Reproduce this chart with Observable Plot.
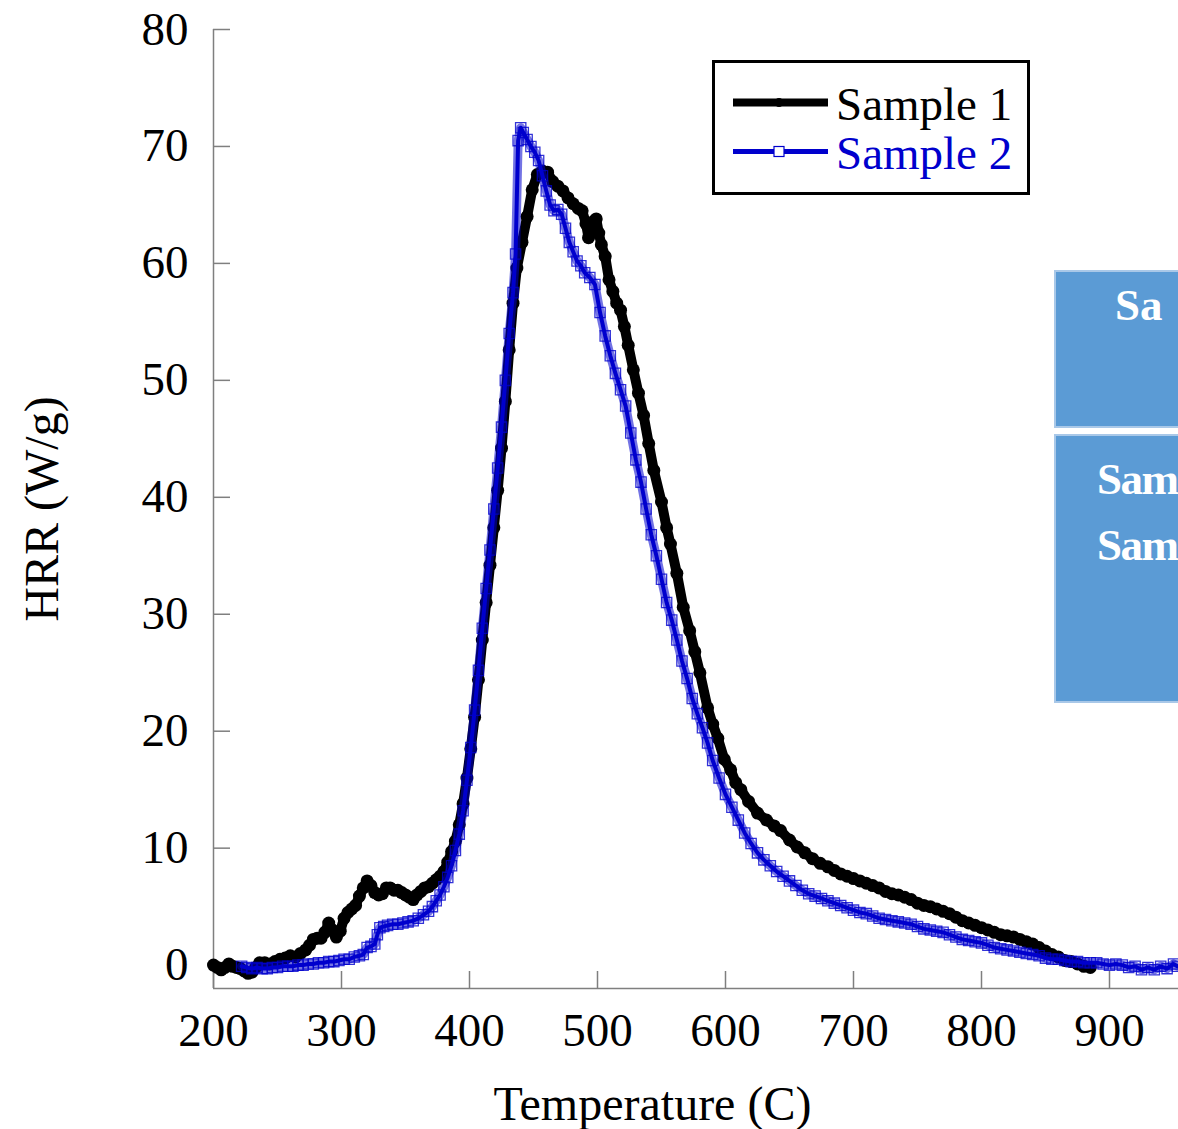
<!DOCTYPE html>
<html>
<head>
<meta charset="utf-8">
<script src="https://cdn.jsdelivr.net/npm/d3@7"></script>
<script src="https://cdn.jsdelivr.net/npm/@observablehq/plot@0.6"></script>
<style>
  html, body { margin: 0; padding: 0; background: white; }
  #wrap { position: relative; width: 1178px; height: 1129px; overflow: hidden; font-family: 'Liberation Serif', 'Times New Roman', serif; }
  #chart { position: absolute; left: 0; top: 0; }
  .box { position: absolute; background: #5b9bd5; border: 2px solid #a9c8e8; box-sizing: border-box; color: white; font-weight: bold; font-size: 45px; white-space: nowrap; }
</style>
</head>
<body>
<div id="wrap">
  <div id="chart"></div>
  <svg id="legend" width="318" height="135" style="position:absolute;left:712px;top:60px">
    <rect x="1.5" y="1.5" width="315" height="132" fill="white" stroke="black" stroke-width="3"></rect>
    <line x1="21" x2="116" y1="42.5" y2="42.5" stroke="black" stroke-width="8"></line>
    <circle cx="67" cy="42.5" r="4.5" fill="black"></circle>
    <text x="124" y="60" font-size="47" font-family="'Liberation Serif','Times New Roman',serif" fill="black">Sample 1</text>
    <line x1="21" x2="116" y1="91.5" y2="91.5" stroke="#0000cd" stroke-width="5"></line>
    <rect x="62" y="86.5" width="10" height="10" fill="white" stroke="#0000cd" stroke-width="1.2"></rect>
    <text x="124" y="109" font-size="47" font-family="'Liberation Serif','Times New Roman',serif" fill="#0000cd">Sample 2</text>
  </svg>
  <div class="box" style="left:1054px;top:270px;width:220px;height:158px;">
    <div style="position:absolute;left:59px;top:10px;line-height:46px;">Sa</div>
  </div>
  <div class="box" style="left:1054px;top:434px;width:220px;height:269px;">
    <div style="position:absolute;left:41px;top:10px;line-height:66px;letter-spacing:-1.5px;">Sam<br>Sam</div>
  </div>
</div>
<script>
// Sample 1 (black, circles)
const s1Temp = [200,203,206,209,212,215,218,221,224,227,230,233,236,240,244,248,252,256,260,264,268,272,275,278,281,284,287,290,293,296,299,302,305,308,311,314,317,320,323,326,329,332,335,338,341,344,347,350,353,356,359,362,365,368,371,374,377,380,383,386,389,392,395,398,401,404,407,410,413,416,419,422,425,428,431,434,437,441,445,449,453,457,461,465,469,473,477,481,485,488,491,493,495,497,499,501,503,506,509,512,515,518,521,524,528,532,536,540,544,550,554,557,562,567,572,576,580,586,590,594,599,604,608,612,618,625,632,638,643,650,656,662,668,674,680,685,690,695,700,705,710,715,720,725,730,735,740,745,750,755,760,765,770,775,780,785,790,795,800,805,810,815,820,825,830,835,840,845,850,855,860,865,870,875,880,885];
const s1HRR = [0.0,-0.2,-0.4,-0.2,0.1,-0.1,-0.2,-0.3,-0.5,-0.7,-0.6,-0.2,0.2,0.2,0.1,0.3,0.5,0.6,0.8,0.7,1.0,1.3,1.7,2.2,2.3,2.3,2.8,3.6,3.0,2.4,2.9,4.0,4.5,4.8,5.1,5.9,6.6,7.2,6.8,6.2,6.0,6.1,6.6,6.6,6.4,6.4,6.2,6.0,5.8,5.6,6.0,6.3,6.6,6.7,7.0,7.3,7.6,8.0,8.8,9.7,10.6,12.0,13.8,16.0,18.5,21.2,24.4,27.8,31.0,34.2,37.4,40.6,44.2,48.2,52.6,56.6,59.6,61.8,64.0,66.3,67.6,67.9,67.8,67.0,66.6,66.2,65.6,65.1,64.7,64.5,63.4,62.2,62.6,63.6,63.8,62.6,61.6,60.6,58.6,57.6,56.6,56.0,54.6,53.0,50.9,48.9,47.0,44.6,42.3,39.6,37.4,36.0,33.5,30.6,28.6,26.8,25.0,22.0,20.6,19.4,17.6,16.7,15.6,15.0,14.0,13.0,12.4,11.9,11.5,10.7,10.1,9.6,9.1,8.7,8.4,8.1,7.8,7.6,7.4,7.2,7.0,6.8,6.6,6.3,6.1,6.0,5.8,5.6,5.3,5.1,5.0,4.8,4.6,4.4,4.1,3.8,3.6,3.4,3.2,3.0,2.8,2.6,2.5,2.4,2.2,2.0,1.8,1.5,1.2,0.9,0.7,0.4,0.3,0.1,-0.1,-0.2];
// Sample 2 (blue, squares)
const s2Temp = [222,226,230,234,238,242,246,250,254,258,262,266,270,274,278,282,286,290,294,298,302,306,310,314,317,320,323,326,328,330,333,336,340,344,348,352,356,360,364,368,371,374,377,380,383,386,389,392,395,398,401,404,407,410,413,416,419,422,425,428,431,434,436,438,440,442,445,448,451,454,457,460,463,466,469,472,475,478,481,484,487,490,494,498,502,506,510,514,518,522,526,530,534,538,542,546,550,554,558,562,566,570,574,578,582,586,590,595,600,605,610,615,620,625,630,635,640,645,650,655,660,665,670,675,680,685,690,695,700,705,710,715,720,725,730,735,740,745,750,755,760,765,770,775,780,785,790,795,800,805,810,815,820,825,830,835,840,845,850,855,860,865,870,875,880,885,890,895,900,905,910,915,920,925,930,935,940,945,950,953];
const s2HRR = [-0.1,-0.2,-0.3,-0.2,-0.3,-0.3,-0.2,-0.2,-0.1,-0.1,-0.1,0.0,0.0,0.1,0.1,0.2,0.2,0.3,0.3,0.4,0.5,0.5,0.7,0.8,0.9,1.5,1.6,1.8,2.6,3.2,3.3,3.4,3.5,3.5,3.6,3.7,3.8,4.0,4.3,4.6,5.0,5.5,6.0,6.7,7.5,8.5,9.8,11.2,13.2,15.8,18.6,21.8,25.2,28.8,32.2,35.5,39.0,42.5,46.0,50.0,54.0,57.5,60.8,70.5,71.6,71.2,70.6,70.0,69.5,68.8,67.5,66.2,65.0,64.5,64.6,64.2,63.0,61.8,61.0,60.2,59.8,59.2,58.8,58.2,55.8,53.8,52.1,50.6,49.2,47.8,45.5,43.2,41.3,39.0,36.8,35.0,33.0,31.0,29.5,27.8,26.0,24.5,22.8,21.5,20.3,19.0,17.5,16.0,14.6,13.5,12.4,11.3,10.4,9.6,9.0,8.5,8.0,7.6,7.2,6.8,6.4,6.1,5.9,5.7,5.5,5.3,5.1,4.9,4.7,4.5,4.4,4.2,4.0,3.9,3.8,3.7,3.6,3.5,3.3,3.1,3.0,2.9,2.8,2.6,2.4,2.2,2.1,2.0,1.9,1.7,1.5,1.4,1.3,1.2,1.1,1.0,0.9,0.8,0.6,0.5,0.5,0.4,0.3,0.3,0.2,0.2,0.2,0.1,0.0,0.1,0.0,-0.2,-0.1,-0.4,-0.2,-0.4,-0.1,-0.3,0.1,-0.1];

const xTicks = [200,300,400,500,600,700,800,900];
const yTicks = [0,10,20,30,40,50,60,70,80];

const s1 = s1Temp.map((t, i) => ({t, v: s1HRR[i]}));
const s2 = s2Temp.map((t, i) => ({t, v: s2HRR[i]}));

const W = 1178, H = 1129, ML = 213, MR = 0, MT = 29, MB = 141;
const axisColor = "#7f7f7f";
const blue = "#0000cd";

const plot = Plot.plot({
  width: W, height: H,
  marginLeft: ML, marginRight: MR, marginTop: MT, marginBottom: MB,
  style: {fontFamily: "'Liberation Serif','Times New Roman',serif", fontSize: "47px", color: "black", background: "white", overflow: "hidden"},
  x: {domain: [200, 200 + (W - ML - MR) / 1.28]},
  y: {domain: [-2, 80]},
  marks: [
    Plot.ruleX([200], {stroke: axisColor, strokeWidth: 1.5}),
    Plot.ruleY([-2], {stroke: axisColor, strokeWidth: 1.5}),
    Plot.tickY(yTicks, {y: d => d, stroke: axisColor, strokeWidth: 1.5, insetRight: (W - ML - MR) - 17}),
    Plot.tickX(xTicks, {x: d => d, stroke: axisColor, strokeWidth: 1.5, insetTop: (H - MT - MB) - 17}),
    Plot.axisY({ticks: yTicks, tickSize: 0, tickPadding: 25, label: null, fontSize: 47}),
    Plot.axisX({ticks: xTicks, tickSize: 0, tickPadding: 24, label: null, fontSize: 47}),
    Plot.line(s1, {x: "t", y: "v", stroke: "black", strokeWidth: 10, strokeLinejoin: "round"}),
    Plot.dot(s1, {x: "t", y: "v", r: 6.5, fill: "black"}),
    Plot.line(s2, {x: "t", y: "v", stroke: blue, strokeWidth: 9, strokeOpacity: 0.55, strokeLinejoin: "round"}),
    Plot.line(s2, {x: "t", y: "v", stroke: blue, strokeWidth: 4}),
    Plot.dot(s2, {x: "t", y: "v", symbol: "square", r: 5.8, stroke: blue, strokeWidth: 1.3, strokeOpacity: 0.8, fill: "none"}),
    Plot.text(["Temperature (C)"], {frameAnchor: "bottom", dx: 652 - (ML + (W - MR)) / 2, dy: 116, fontSize: 48, lineAnchor: "middle"}),
    Plot.text(["HRR (W/g)"], {frameAnchor: "left", textAnchor: "middle", rotate: -90, dx: -171, fontSize: 48, lineAnchor: "middle"})
  ]
});
document.getElementById("chart").appendChild(plot);
</script>
</body>
</html>
